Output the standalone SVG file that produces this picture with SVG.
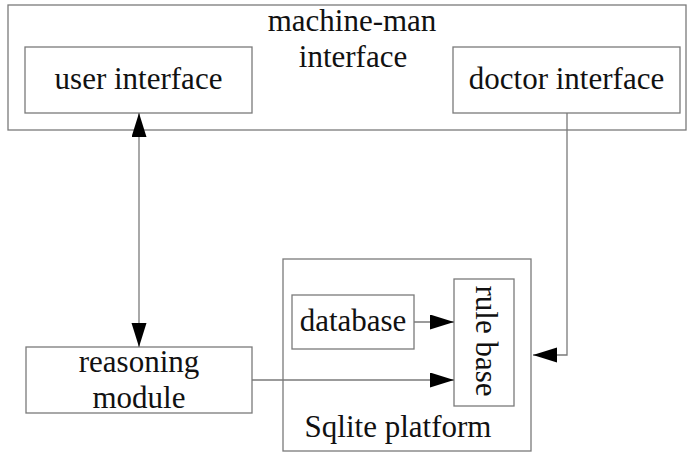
<svg xmlns="http://www.w3.org/2000/svg" width="688" height="452" viewBox="0 0 688 452">
<style>
.box{fill:none;stroke:#7a7a7a;stroke-width:1.3}
.lbl{font-family:"Liberation Serif","Times New Roman",serif;font-size:31px;fill:#111;text-anchor:middle}
.con{fill:none;stroke:#7a7a7a;stroke-width:1.3}
</style>
<defs>
<marker id="ah" markerUnits="userSpaceOnUse" markerWidth="26" markerHeight="16" refX="24" refY="7.5" orient="auto-start-reverse">
<path d="M0,0 L24,7.5 L0,15 Z" fill="#000"/>
</marker>
</defs>
<rect x="0" y="0" width="688" height="452" fill="#fff"/>
<g id="machine-man">
<rect class="box" x="8" y="5" width="678" height="125"/>
<text class="lbl" x="352" y="31">machine-man</text>
<text class="lbl" x="353" y="67">interface</text>
</g>
<g id="user-interface">
<rect class="box" x="25" y="47" width="227" height="66"/>
<text class="lbl" x="138.5" y="89">user interface</text>
</g>
<g id="doctor-interface">
<rect class="box" x="453" y="47" width="227" height="66"/>
<text class="lbl" x="566.5" y="89">doctor interface</text>
</g>
<g id="sqlite-platform">
<rect class="box" x="283" y="259" width="248" height="192"/>
<text class="lbl" x="398" y="437">Sqlite platform</text>
</g>
<g id="database">
<rect class="box" x="292" y="295" width="122" height="54"/>
<text class="lbl" x="353" y="331">database</text>
</g>
<g id="rule-base">
<rect class="box" x="454" y="279" width="60" height="127"/>
<text class="lbl" transform="translate(476,341) rotate(90)" x="0" y="0">rule base</text>
</g>
<g id="reasoning-module">
<rect class="box" x="26" y="347" width="226" height="66"/>
<text class="lbl" x="139" y="372">reasoning</text>
<text class="lbl" x="139" y="408">module</text>
</g>
<g id="connectors">
<line class="con" x1="139" y1="113" x2="139" y2="347" marker-start="url(#ah)" marker-end="url(#ah)"/>
<line class="con" x1="414" y1="322" x2="454" y2="322" marker-end="url(#ah)"/>
<line class="con" x1="252" y1="380" x2="454" y2="380" marker-end="url(#ah)"/>
<path class="con" d="M567,113 V355 H533" marker-end="url(#ah)"/>
</g>
</svg>
